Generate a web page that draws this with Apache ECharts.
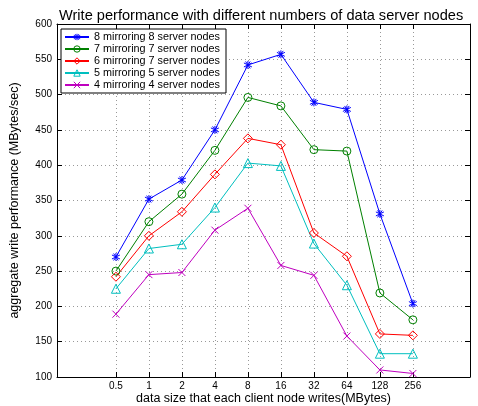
<!DOCTYPE html>
<html><head><meta charset="utf-8">
<script src="https://cdn.jsdelivr.net/npm/echarts@6/dist/echarts.min.js"></script>
<style>html,body{margin:0;padding:0;background:#fff}#c{width:478px;height:406px}</style>
</head><body><div id="c"></div>
<script>
const sizes = [0.5, 1, 2, 4, 8, 16, 32, 64, 128, 256];
const sizeLabels = ['0.5','1','2','4','8','16','32','64','128','256'];
const yTicks = [100,150,200,250,300,350,400,450,500,550,600];
const names = ['8 mirroring 8 server nodes','7 mirroring 7 server nodes','6 mirroring 7 server nodes','5 mirroring 5 server nodes','4 mirroring 4 server nodes'];
const s8 = [270, 352, 379, 450, 542, 557, 489, 479, 331, 204];
const s7 = [250, 320, 359, 421, 496, 484, 422, 420, 219, 181];
const s6 = [242, 300, 334, 387, 438, 429, 304, 271, 161, 159];
const s5 = [225, 282, 288, 340, 403, 399, 289, 230, 133, 133];
const s4 = [189, 245, 248, 308, 339, 258, 244, 158, 110, 105];

const colors = ['#0000ff','#008000','#ff0000','#00bfbf','#bf00bf'];
const symbols = [
  'path://M0,-10L0,10M-8.7,-5L8.7,5M-8.7,5L8.7,-5M-5,-8.7L5,8.7M-5,8.7L5,-8.7',
  'circle','diamond','triangle',
  'path://M-10,-10L10,10M-10,10L10,-10'
];
const sizesSym = [8,8,9,9,7];
const allData = [s8,s7,s6,s5,s4];
const font = 'Liberation Sans, Arial, Helvetica, sans-serif';

const series = allData.map((vals,i)=>({
  name: names[i], type:'line', xAxisIndex:0, yAxisIndex:0,
  data: sizes.map((s,k)=>[s, vals[k]]),
  symbol: symbols[i], symbolSize: sizesSym[i],
  lineStyle:{color:colors[i], width:1},
  itemStyle:{color:'rgba(0,0,0,0)', borderColor:colors[i], borderWidth:1},
  emphasis:{disabled:true}, animation:false
}));

const xCommon = {
  type:'log', logBase:2, min:0.145, max:850,
  axisLine:{show:true, onZero:false, lineStyle:{color:'#000', width:1}},
  axisTick:{show:true, inside:true, length:5, customValues:sizes, lineStyle:{color:'#000'}},
  minorTick:{show:false}, minorSplitLine:{show:false}
};
const yCommon = {
  type:'value', min:100, max:600, interval:50,
  axisLine:{show:true, lineStyle:{color:'#000', width:1}},
  axisTick:{show:true, inside:true, length:5, lineStyle:{color:'#000'}}
};

const chart = echarts.init(document.getElementById('c'), null, {renderer:'canvas'});
chart.setOption({
  animation:false,
  backgroundColor:'#fff',
  title:{text:'Write performance with different numbers of data server nodes', left:54, top:3,
    textStyle:{fontFamily:font, fontSize:14.6, fontWeight:'normal', color:'#000'}},
  grid:{left:57, right:8, top:24, bottom:29, containLabel:false, outerBoundsMode:'none'},
  legend:{
    data:names, orient:'vertical', left:61, top:29, itemGap:0, itemWidth:24, itemHeight:8,
    padding:[2,6,2,3], borderColor:'#000', borderWidth:1, backgroundColor:'#fff',
    itemStyle:{color:'rgba(0,0,0,0)', borderWidth:1},
    textStyle:{fontFamily:font, fontSize:10.8, lineHeight:12, color:'#000'}, selectedMode:false
  },
  xAxis:[
    Object.assign({}, xCommon, {position:'bottom',
      axisLabel:{show:true, customValues:sizes, formatter:(v)=>sizeLabels[sizes.indexOf(v)] ?? '', fontFamily:font, fontSize:10, color:'#000', margin:4},
      splitLine:{show:true, lineStyle:{color:'#999', type:[1,3], width:1}},
      name:'data size that each client node writes(MBytes)', nameLocation:'middle', nameGap:15, nameMoveOverlap:false,
      nameTextStyle:{fontFamily:font, fontSize:12.5, color:'#000', verticalAlign:'top'}}),
    Object.assign({}, xCommon, {position:'top', axisLabel:{show:false}, splitLine:{show:false}})
  ],
  yAxis:[
    Object.assign({}, yCommon, {position:'left',
      axisLabel:{show:true, fontFamily:font, fontSize:10, color:'#000', margin:5},
      splitLine:{show:true, lineStyle:{color:'#999', type:[1,3], width:1}},
      name:'aggregate write performance (MBytes/sec)', nameLocation:'middle', nameGap:36,
      nameTextStyle:{fontFamily:font, fontSize:12.5, color:'#000'}}),
    Object.assign({}, yCommon, {position:'right', axisLabel:{show:false}, splitLine:{show:false}})
  ],
  series: series
});
</script></body></html>
